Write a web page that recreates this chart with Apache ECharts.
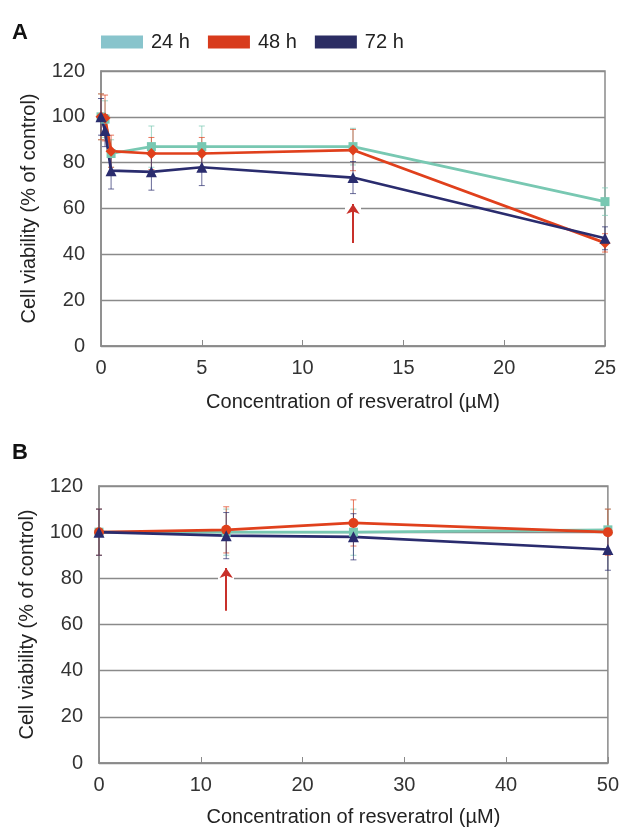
<!DOCTYPE html>
<html><head><meta charset="utf-8">
<script src="https://cdn.jsdelivr.net/npm/echarts@6/dist/echarts.min.js"></script>
<style>html,body{margin:0;padding:0;background:#fff}#c{width:622px;height:832px}</style>
</head><body><div id="c"></div>
<script>
// ---------- data ----------
const seriesNames = ['24 h', '48 h', '72 h'];
// Panel A
const concA = [0, 0.2, 0.5, 2.5, 5, 12.5, 25];
const a24 = [100, 99, 84, 87, 87, 87, 63];
const a48 = [100, 99.5, 85, 84, 84, 85.5, 45];
const a72 = [100, 94, 76.5, 76, 78, 73.5, 47];
const a24err = [10, 8, 6, 9, 9, 8, 6];
const a48err = [10, 10, 7, 7, 7, 9, 4];
const a72err = [8, 7, 8, 8, 8, 7, 5];
// Panel B
const concB = [0, 12.5, 25, 50];
const b24 = [100, 100, 100, 101];
const b48 = [100, 101, 104, 100];
const b72 = [100, 98.5, 98, 92.5];
const b24err = [10, 10, 10, 9];
const b48err = [10, 10, 10, 10];
const b72err = [10, 10, 10, 9];
// axis ticks
const yTicks = [0, 20, 40, 60, 80, 100, 120];
const xTicksA = [0, 5, 10, 15, 20, 25];
const xTicksB = [0, 10, 20, 30, 40, 50];
// arrows [x, from, to]
const arrowA = [12.5, 45, 62];
const arrowB = [12.5, 66, 84.5];
const gapA = 60, gapB = 80;

// ---------- style ----------
const lineColors = ['#78c8b2', '#e0401c', '#2a2c6e'];
const legendColors = ['#88c4cc', '#d83b1c', '#2b2d63'];
const FONT = 'Liberation Sans, Arial, sans-serif';

function pairs(xs, ys) { return xs.map((x, i) => [x, ys[i]]); }
function errData(xs, ys, es) { return xs.map((x, i) => [x, ys[i] - es[i], ys[i] + es[i]]); }
function errSeries(name, idx, data, color) {
  return {
    name: name, type: 'custom', xAxisIndex: idx, yAxisIndex: idx, z: 1, silent: true,
    data: data,
    renderItem: function (params, api) {
      const x = api.value(0), lo = api.value(1), hi = api.value(2);
      const p1 = api.coord([x, hi]), p2 = api.coord([x, lo]);
      const w = 3;
      const st = { stroke: color, lineWidth: 1, opacity: 0.7 };
      return { type: 'group', children: [
        { type: 'line', shape: { x1: p1[0], y1: p1[1], x2: p2[0], y2: p2[1] }, style: st },
        { type: 'line', shape: { x1: p1[0] - w, y1: p1[1], x2: p1[0] + w, y2: p1[1] }, style: st },
        { type: 'line', shape: { x1: p2[0] - w, y1: p2[1], x2: p2[0] + w, y2: p2[1] }, style: st }
      ] };
    }
  };
}
function lineSeries(name, idx, data, color, symbol, size) {
  return {
    name: name, type: 'line', xAxisIndex: idx, yAxisIndex: idx, z: 3,
    data: data, symbol: symbol, symbolSize: size,
    lineStyle: { color: color, width: 2.7 },
    itemStyle: { color: color },
    emphasis: { disabled: true }
  };
}
function arrowMark(arr, gap) {
  return {
    silent: true, animation: false, label: { show: false },
    symbol: ['none', 'arrow'], symbolSize: 10,
    lineStyle: { color: '#c8302a', width: 2, type: 'solid' },
    data: [
      [{ coord: [arr[0], gap - 1.6], symbol: 'none', lineStyle: { color: '#ffffff', width: 16, type: 'solid' } },
       { coord: [arr[0], gap + 1.6], symbol: 'none' }],
      [{ coord: [arr[0], arr[1]] }, { coord: [arr[0], arr[2]] }]
    ]
  };
}
function xAxis(idx, max, interval, gap) {
  return {
    type: 'value', gridIndex: idx, min: 0, max: max, interval: interval,
    name: 'Concentration of resveratrol (µM)', nameLocation: 'middle', nameGap: gap,
    nameTextStyle: { fontFamily: FONT, fontSize: 20, color: '#222' },
    axisLine: { lineStyle: { color: '#8a8a8a', width: 1.5 } },
    axisTick: { show: true, inside: true, length: 6, lineStyle: { color: '#8a8a8a' } },
    axisLabel: { fontFamily: FONT, fontSize: 20, color: '#333', margin: 12 },
    splitLine: { show: false }
  };
}
function yAxis(idx) {
  return {
    type: 'value', gridIndex: idx, min: 0, max: 120, interval: 20,
    name: 'Cell viability (% of control)', nameLocation: 'middle', nameGap: 62,
    nameTextStyle: { fontFamily: FONT, fontSize: 20, color: '#222' },
    axisLine: { show: true, lineStyle: { color: '#8a8a8a', width: 1.5 } },
    axisTick: { show: false },
    axisLabel: { fontFamily: FONT, fontSize: 20, color: '#333', margin: 16 },
    splitLine: { show: true, lineStyle: { color: '#8a8a8a', width: 1.3 } }
  };
}

const chart = echarts.init(document.getElementById('c'), null, { renderer: 'canvas' });
const s = [];
const A = [a24, a48, a72], AE = [a24err, a48err, a72err];
const B = [b24, b48, b72], BE = [b24err, b48err, b72err];
const symA = ['rect', 'diamond', 'triangle'], symB = ['rect', 'circle', 'triangle'];
const sizeA = [9, 11, 11], sizeB = [9, 10, 11];
for (let i = 0; i < 3; i++) {
  s.push(errSeries(seriesNames[i], 0, errData(concA, A[i], AE[i]), lineColors[i]));
  s.push(errSeries(seriesNames[i], 1, errData(concB, B[i], BE[i]), lineColors[i]));
}
for (let i = 0; i < 3; i++) {
  s.push(lineSeries(seriesNames[i], 0, pairs(concA, A[i]), lineColors[i], symA[i], sizeA[i]));
  s.push(lineSeries(seriesNames[i], 1, pairs(concB, B[i]), lineColors[i], symB[i], sizeB[i]));
}
s.push({ type: 'line', xAxisIndex: 0, yAxisIndex: 0, data: [], z: 2, markLine: arrowMark(arrowA, gapA) });
s.push({ type: 'line', xAxisIndex: 1, yAxisIndex: 1, data: [], z: 2, markLine: arrowMark(arrowB, gapB) });

chart.setOption({
  animation: false,
  backgroundColor: '#ffffff',
  title: [
    { text: 'A', left: 12, top: 22, padding: 0, textStyle: { fontFamily: FONT, fontSize: 22, fontWeight: 'bold', color: '#111' } },
    { text: 'B', left: 12, top: 442, padding: 0, textStyle: { fontFamily: FONT, fontSize: 22, fontWeight: 'bold', color: '#111' } }
  ],
  legend: {
    left: 101, top: 32, padding: 0, icon: 'rect', itemWidth: 42, itemHeight: 13, itemGap: 18,
    selectedMode: false,
    textStyle: { fontFamily: FONT, fontSize: 20, color: '#222', padding: [0, 0, 0, 3] },
    data: seriesNames.map((n, i) => ({ name: n, icon: 'rect', itemStyle: { color: legendColors[i], borderWidth: 0 } }))
  },
  grid: [
    { left: 101, right: 17, top: 71, height: 275, show: true, borderColor: '#8a8a8a', borderWidth: 1.5 },
    { left: 99, right: 12, top: 486, height: 277, show: true, borderColor: '#8a8a8a', borderWidth: 1.5 }
  ],
  xAxis: [xAxis(0, 25, 5, 46), xAxis(1, 50, 10, 44)],
  yAxis: [yAxis(0), yAxis(1)],
  series: s
});
</script></body></html>
